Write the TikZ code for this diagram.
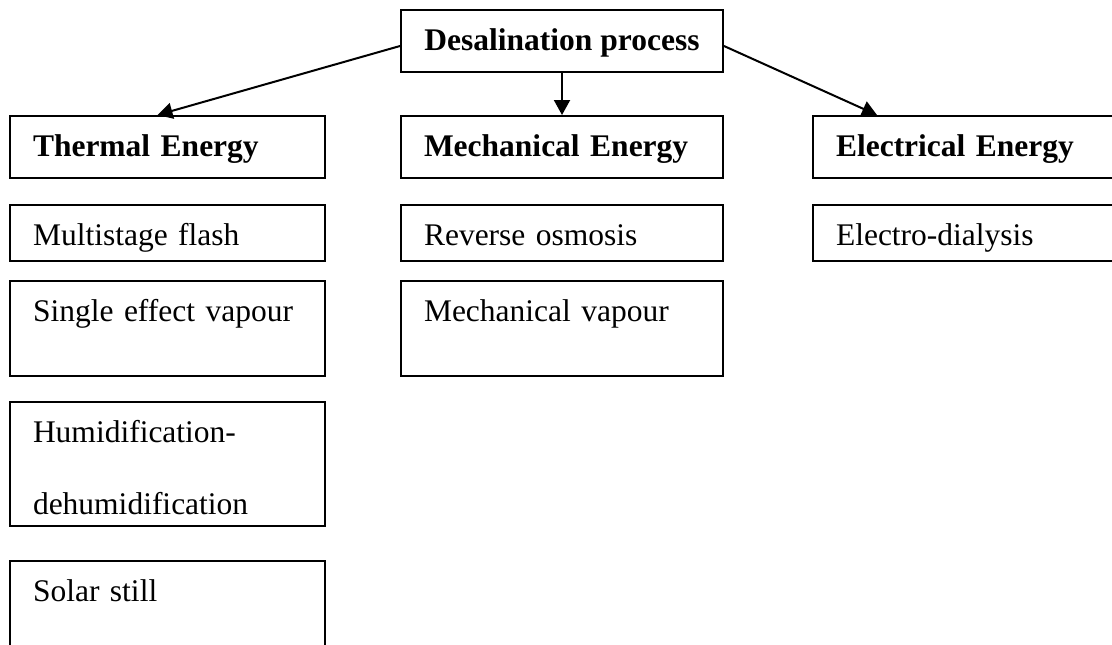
\documentclass[tikz,border=0pt]{standalone}
\usepackage{fontspec}
\setmainfont{Liberation Serif}
\usetikzlibrary{arrows.meta}
\tikzset{
    procbox/.style={draw, line width=1pt, anchor=north west, inner xsep=11.5pt, inner ysep=0pt,
        text height=20pt, align=left, font=\fontsize{15.75}{36}\selectfont},
    headbox/.style={procbox, text depth=11pt, font=\fontsize{15.75}{36}\selectfont\bfseries},
    branch/.style={line width=1pt, -{Triangle[length=7.5pt,width=8pt]}}
}
\begin{document}
\begin{tikzpicture}[x=0.5pt,y=-0.5pt]
        \useasboundingbox (0,0) rectangle (1112,644);
        \node[draw, line width=1pt, anchor=north west, minimum width=161pt, minimum height=31pt, inner sep=0pt,
            text height=13pt, text depth=4pt,
            font=\fontsize{15.75}{36}\selectfont\bfseries] (desal) at (400,9) {Desalination process};
        \node[headbox, text width=134.5pt] (thermal) at (9,115) {Thermal Energy};
        \node[headbox, text width=138pt] (mech) at (400,115) {Mechanical Energy};
        \node[headbox, text width=128pt] (elec) at (812,115) {Electrical Energy};
        \node[procbox, text width=134.5pt, text depth=8pt] (msf) at (9,204) {Multistage flash};
        \node[procbox, text width=138pt, text depth=8pt] (ro) at (400,204) {Reverse osmosis};
        \node[procbox, text width=128pt, text depth=8pt] (ed) at (812,204) {Electro-dialysis};
        \node[procbox, text width=134.5pt, text depth=27.5pt] (sev) at (9,280) {Single effect vapour};
        \node[procbox, text width=138pt, text depth=27.5pt] (mvc) at (400,280) {Mechanical vapour};
        \node[procbox, text width=134.5pt, text depth=42pt] (hdh) at (9,401) {Humidification-\\dehumidification};
        \node[procbox, text width=134.5pt, text depth=27.5pt] (still) at (9,560) {Solar still};
        \draw[branch] ([yshift=-2.5pt]desal.west) -- ([xshift=-5pt]thermal.north);
        \draw[branch] (desal.south) -- (mech.north);
        \draw[branch] ([yshift=-2.5pt]desal.east) -- ([xshift=32.5pt]elec.north west);
\end{tikzpicture}
\end{document}
